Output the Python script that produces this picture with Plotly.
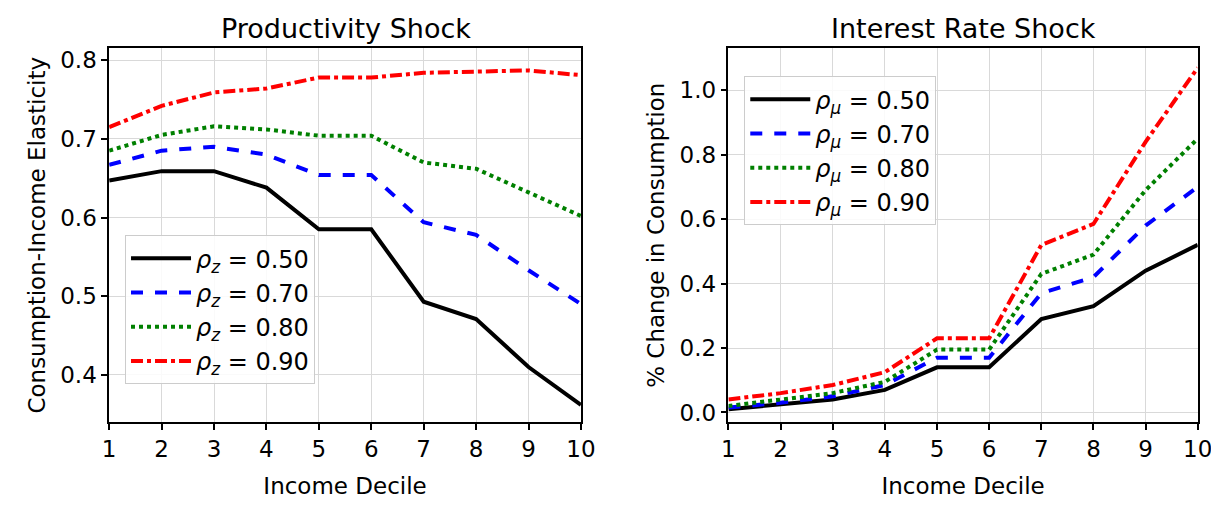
import plotly.graph_objects as go

deciles = list(range(1, 11))
rhos = ["0.50", "0.70", "0.80", "0.90"]

# productivity shock: consumption-income elasticity
prod_050 = [0.647, 0.659, 0.659, 0.638, 0.585, 0.585, 0.493, 0.471, 0.410, 0.362]
prod_070 = [0.667, 0.685, 0.690, 0.680, 0.654, 0.654, 0.594, 0.578, 0.533, 0.490]
prod_080 = [0.685, 0.705, 0.716, 0.712, 0.704, 0.704, 0.670, 0.662, 0.632, 0.602]
prod_090 = [0.715, 0.742, 0.759, 0.764, 0.778, 0.778, 0.784, 0.786, 0.787, 0.781]

# interest rate shock: % change in consumption
rate_050 = [0.010, 0.025, 0.040, 0.070, 0.140, 0.140, 0.290, 0.330, 0.440, 0.520]
rate_070 = [0.015, 0.030, 0.050, 0.085, 0.170, 0.170, 0.370, 0.420, 0.580, 0.700]
rate_080 = [0.020, 0.040, 0.060, 0.095, 0.195, 0.195, 0.430, 0.490, 0.690, 0.850]
rate_090 = [0.040, 0.060, 0.085, 0.125, 0.230, 0.230, 0.520, 0.585, 0.840, 1.070]

colors = ["black", "blue", "green", "red"]
dashes = ["solid", "dash", "dot", "dashdot"]

fig = go.Figure()
for i, ys in enumerate([prod_050, prod_070, prod_080, prod_090]):
    fig.add_trace(go.Scatter(x=deciles, y=ys, mode="lines", xaxis="x", yaxis="y",
                             line=dict(color=colors[i], dash=dashes[i], width=4),
                             name=f"<i>ρ<sub>z</sub></i> = {rhos[i]}", legend="legend"))
for i, ys in enumerate([rate_050, rate_070, rate_080, rate_090]):
    fig.add_trace(go.Scatter(x=deciles, y=ys, mode="lines", xaxis="x2", yaxis="y2",
                             line=dict(color=colors[i], dash=dashes[i], width=4),
                             name=f"<i>ρ<sub>μ</sub></i> = {rhos[i]}", legend="legend2"))

ax = dict(showline=True, mirror=True, linecolor="black", linewidth=1.5,
          ticks="outside", tickwidth=1.5, ticklen=6, tickcolor="black",
          showgrid=True, gridcolor="#d9d9d9", zeroline=False, automargin=False,
          tickfont=dict(size=23, color="black"))
fig.update_layout(
    width=1219, height=505, margin=dict(l=0, r=0, t=0, b=0),
    plot_bgcolor="white", paper_bgcolor="white",
    font=dict(family="DejaVu Sans", color="black", size=23),
    xaxis=dict(ax, domain=[0.083, 0.470], range=[1, 10], dtick=1, anchor="y",
               title=dict(text="Income Decile", font=dict(size=23), standoff=16)),
    yaxis=dict(ax, domain=[0.18, 0.92], range=[0.34, 0.815], dtick=0.1, tickformat=".1f",
               anchor="x", title=dict(text="Consumption-Income Elasticity", font=dict(size=23), standoff=8)),
    xaxis2=dict(ax, domain=[0.591, 0.976], range=[1, 10], dtick=1, anchor="y2",
                title=dict(text="Income Decile", font=dict(size=23), standoff=16)),
    yaxis2=dict(ax, domain=[0.18, 0.92], range=[-0.03, 1.13], dtick=0.2, tickformat=".1f",
                anchor="x2", title=dict(text="% Change in Consumption", font=dict(size=23), standoff=8)),
    legend=dict(x=0.096, y=0.55, xanchor="left", yanchor="top", bgcolor="rgba(255,255,255,0.85)",
                bordercolor="#cccccc", borderwidth=1, font=dict(size=24), itemwidth=60),
    legend2=dict(x=0.604, y=0.865, xanchor="left", yanchor="top", bgcolor="rgba(255,255,255,0.85)",
                 bordercolor="#cccccc", borderwidth=1, font=dict(size=24), itemwidth=60),
    annotations=[
        dict(text="Productivity Shock", x=0.277, y=0.925, xref="paper", yref="paper",
             xanchor="center", yanchor="bottom", showarrow=False, font=dict(size=27)),
        dict(text="Interest Rate Shock", x=0.784, y=0.925, xref="paper", yref="paper",
             xanchor="center", yanchor="bottom", showarrow=False, font=dict(size=27)),
    ],
)
fig.write_html("out.html")
